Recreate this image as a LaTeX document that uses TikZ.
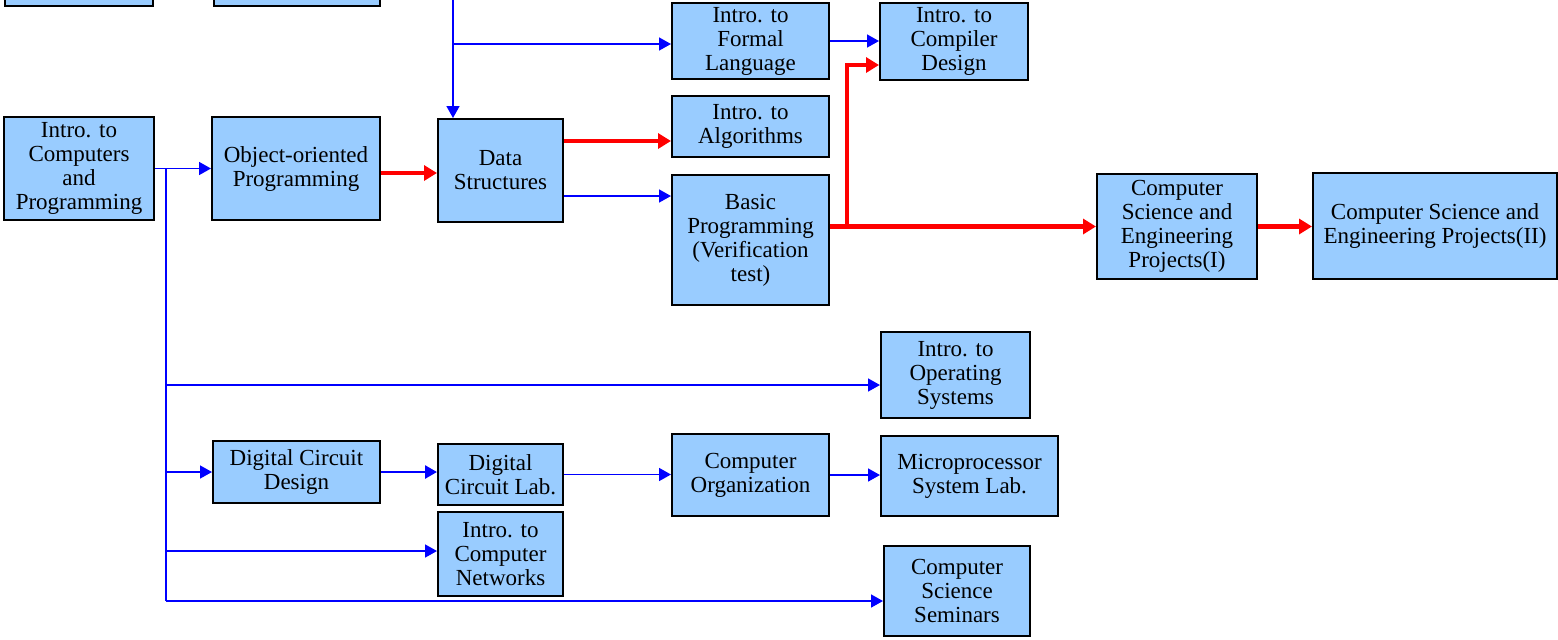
\documentclass[tikz,border=0pt]{standalone}
\usepackage{fontspec}
\setmainfont{Liberation Serif}
\usetikzlibrary{arrows.meta}

\definecolor{courseblue}{HTML}{99CCFF}
\definecolor{linkblue}{HTML}{0000FF}
\definecolor{linkred}{HTML}{FF0000}

\tikzset{
    course/.style={draw=black, line width=1pt, fill=courseblue, align=center,
        inner sep=1pt, font=\fontsize{11.5}{12}\selectfont},
    bluelink/.style={draw=linkblue, line width=0.8pt},
    bluearrow/.style={bluelink, -{Triangle[length=6pt,width=6.5pt]}},
    redarrow/.style={draw=linkred, line width=2.2pt, line join=miter,
        -{Triangle[length=6.5pt,width=7.5pt]}}
}

\begin{document}
\begin{tikzpicture}[x=0.5pt, y=-0.5pt]
    \useasboundingbox (0,0) rectangle (1558,639);
    \clip (0,0) rectangle (1558,639);

    % boxes cut off at the top
    \node[course, minimum width=74pt, minimum height=30pt] (topA) at (79,-24) {};
    \node[course, minimum width=83pt, minimum height=30pt] (topB) at (297,-24) {};

    % courses
    \node[course, minimum width=75pt, minimum height=51.5pt] (ICP) at (79,168.5)
        {Intro. to\\Computers\\and\\Programming};
    \node[course, minimum width=84pt, minimum height=51.5pt] (OOP) at (296,168.5)
        {Object-oriented\\Programming};
    \node[course, minimum width=62.5pt, minimum height=51.5pt] (DS) at (500.5,170.5)
        {Data\\Structures};
    \node[course, minimum width=78.5pt, minimum height=38pt] (IFL) at (750.5,41)
        {Intro. to\\Formal\\Language};
    \node[course, minimum width=74pt, minimum height=38.5pt] (ICD) at (954,41.5)
        {Intro. to\\Compiler\\Design};
    \node[course, minimum width=78.5pt, minimum height=30.5pt] (IA) at (750.5,126.5)
        {Intro. to\\Algorithms};
    \node[course, minimum width=78.5pt, minimum height=65pt] (BP) at (750.5,240)
        {Basic\\Programming\\(Verification\\test)};
    \node[course, minimum width=80pt, minimum height=52.5pt] (P1) at (1177,226.5)
        {Computer\\Science and\\Engineering\\Projects(I)};
    \node[course, minimum width=122pt, minimum height=53pt] (P2) at (1435,226)
        {Computer Science and\\Engineering Projects(II)};
    \node[course, minimum width=74.5pt, minimum height=43pt] (IOS) at (955.5,375)
        {Intro. to\\Operating\\Systems};
    \node[course, minimum width=83.5pt, minimum height=31pt] (DCD) at (296.5,472)
        {Digital Circuit\\Design};
    \node[course, minimum width=62.5pt, minimum height=30.5pt] (DCL) at (500.5,474.5)
        {Digital\\Circuit Lab.};
    \node[course, minimum width=78.5pt, minimum height=41pt] (CO) at (750.5,475)
        {Computer\\Organization};
    \node[course, minimum width=88.5pt, minimum height=40pt] (MSL) at (969.5,476)
        {Microprocessor\\System Lab.};
    \node[course, minimum width=62.5pt, minimum height=42pt] (ICN) at (500.5,554)
        {Intro. to\\Computer\\Networks};
    \node[course, minimum width=73pt, minimum height=45pt] (CSS) at (957,591)
        {Computer\\Science\\Seminars};

    % branch points
    \coordinate (trunkTop) at (166,168.5);
    \coordinate (trunkBot) at (166,601);
    \coordinate (bOS)  at (166,385);
    \coordinate (bDCD) at (166,472);
    \coordinate (bICN) at (166,551);
    \coordinate (dsTop) at (453,0);
    \coordinate (bFL)  at (453,44);
    \coordinate (bCD)  at (847,226.5);

    % blue links
    \draw[bluearrow] (ICP.east) -- (OOP.west);
    \draw[bluelink] (trunkTop) -- (trunkBot);
    \draw[bluearrow] (bOS) -- (bOS -| IOS.west);
    \draw[bluearrow] (bDCD) -- (DCD.west);
    \draw[bluearrow] (bICN) -- (bICN -| ICN.west);
    \draw[bluearrow] (trunkBot) -- (trunkBot -| CSS.west);
    \draw[bluearrow] (dsTop) -- (dsTop |- DS.north);
    \draw[bluearrow] (bFL) -- (bFL -| IFL.west);
    \draw[bluearrow] (IFL.east) -- (IFL.east -| ICD.west);
    \draw[bluearrow] (DS.east |- 0,196) -- (BP.west |- 0,196);
    \draw[bluearrow, line width=1.3pt] (DCD.east) -- (DCD.east -| DCL.west);
    \draw[bluearrow] (DCL.east) -- (DCL.east -| CO.west);
    \draw[bluearrow] (CO.east) -- (CO.east -| MSL.west);

    % red links
    \draw[redarrow] (OOP.east |- 0,173) -- (DS.west |- 0,173);
    \draw[redarrow] (DS.east |- 0,141) -- (IA.west |- 0,141);
    \draw[redarrow] (BP.east |- P1) -- (P1.west);
    \draw[redarrow] (bCD) |- (ICD.west |- 0,65);
    \draw[redarrow] (P1.east) -- (P1.east -| P2.west);
\end{tikzpicture}
\end{document}
